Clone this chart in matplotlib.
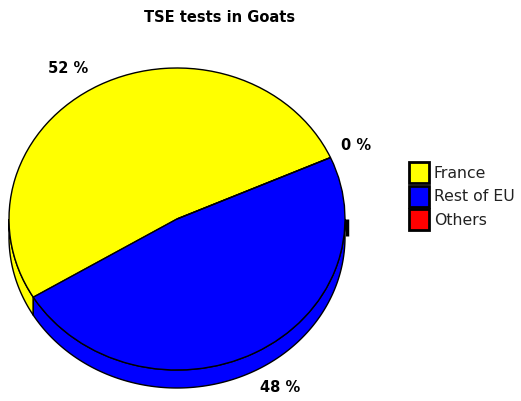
import numpy as np
import matplotlib
matplotlib.use("Agg")
import matplotlib.pyplot as plt
from matplotlib.patches import Polygon, Patch

title = "TSE tests in Goats"
categories = ["France", "Rest of EU", "Others"]
values = [52, 48, 0]
colors = ["#ffff00", "#0000ff", "#ff0000"]

W, H = 521, 401
fig = plt.figure(figsize=(W / 100, H / 100), dpi=100)
fig.patch.set_facecolor("white")
ax = fig.add_axes([0, 0, 1, 1])

# pixel geometry of the pie ellipse
cx, cy, rx, ry, depth_px = 177, 219, 168, 151, 18
depth = depth_px / ry
start = 24

vals = np.array(values, dtype=float)
fr = vals / vals.sum()
edges = start + 360 * np.concatenate([[0], np.cumsum(fr)])

# sides of the 3D pie (visible lower half)
for i, c in enumerate(colors):
    t1, t2 = edges[i], edges[i + 1]
    for off in (0, 360):
        a = max(t1, 180 + off)
        b = min(t2, 360 + off)
        if b - a <= 0:
            continue
        th = np.radians(np.linspace(a, b, 200))
        top = np.column_stack([np.cos(th), np.sin(th)])
        bot = np.column_stack([np.cos(th[::-1]), np.sin(th[::-1]) - depth])
        ax.add_patch(Polygon(np.vstack([top, bot]), closed=True, facecolor=c,
                             edgecolor="black", linewidth=1, zorder=1))

# top face
ax.pie(vals, colors=colors, startangle=start, counterclock=True,
       wedgeprops=dict(edgecolor="black", linewidth=1, zorder=2))
ax.set_aspect("auto")
ax.set_xlim(-cx / rx, (W - cx) / rx)
ax.set_ylim((cy - H) / ry, cy / ry)
ax.set_axis_off()

# small dark side mark of the zero slice
ax.plot([1 + 2.0 / rx, 1 + 2.0 / rx], [0, -depth + 1.0 / ry], color="black",
        lw=2.5, solid_capstyle="butt", zorder=3)

# percentage labels
r_lab = 1.07
for i, v in enumerate(values):
    mid = np.radians((edges[i] + edges[i + 1]) / 2)
    x, y = r_lab * np.cos(mid), r_lab * np.sin(mid)
    ha = "right" if np.cos(mid) < 0 else "left"
    if np.sin(mid) > 0:
        va = "bottom"
    else:
        va = "top"
        y -= depth
    if np.cos(mid) < 0:
        x -= 5.0 / rx
    ax.text(x, y, f"{v:.0f} %", ha=ha, va=va, fontsize=10.5, fontweight="bold",
            color="black", zorder=4)

fig.text(220 / W, 1 - 17 / H, title, ha="center", va="center", fontsize=10.5,
         fontweight="bold", color="black")

handles = [Patch(facecolor=c, edgecolor="black", linewidth=2) for c in colors]
leg = fig.legend(handles, categories, loc="upper left",
                 bbox_to_anchor=(409 / W, 1 - 162 / H), frameon=False,
                 fontsize=11.3, handlelength=1.27, handleheight=1.7,
                 handletextpad=0.3, labelspacing=0.15, borderpad=0,
                 borderaxespad=0)
for t in leg.get_texts():
    t.set_color("#222222")

fig.savefig("out.png", dpi=100, facecolor="white")
